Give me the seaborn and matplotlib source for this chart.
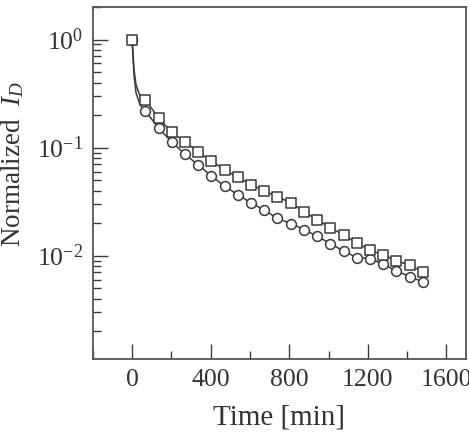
import numpy as np
import pandas as pd
import seaborn as sns
from matplotlib import pyplot as plt
from matplotlib.ticker import LogLocator, LogFormatterMathtext, MultipleLocator, NullFormatter

time = [0, 67, 135, 202, 269, 337, 404, 471, 538, 606, 673, 740, 808, 875,
        942, 1010, 1077, 1144, 1212, 1279, 1346, 1414, 1481]
squares = [1.0, 0.278, 0.187, 0.138, 0.113, 0.091, 0.0747, 0.0625, 0.0531, 0.0454,
           0.0397, 0.0349, 0.0310, 0.0255, 0.0215, 0.0182, 0.0155, 0.0131,
           0.0112, 0.0101, 0.0090, 0.0081, 0.0071]
circles = [1.0, 0.218, 0.151, 0.113, 0.0867, 0.069, 0.0546, 0.0438, 0.0367, 0.0307,
           0.0263, 0.0221, 0.0198, 0.0174, 0.0151, 0.0129, 0.0110, 0.0096,
           0.0094, 0.0083, 0.0072, 0.0064, 0.0057]

# early part of the fitted curves (steep initial drop)
early_time = [0, 5, 10, 20, 40]
early_squares = [1.0, 0.70, 0.52, 0.38, 0.30]
early_circles = [1.0, 0.66, 0.46, 0.32, 0.25]

sns.set_style("ticks")
plt.rcParams['font.family'] = ['Liberation Serif', 'DejaVu Serif']
plt.rcParams['mathtext.fontset'] = 'custom'
plt.rcParams['mathtext.rm'] = 'Liberation Serif'
plt.rcParams['mathtext.it'] = 'Liberation Serif:italic'
plt.rcParams['axes.unicode_minus'] = False

ink = '#3a3a3a'

fig = plt.figure(figsize=(4.69, 4.38), dpi=100)
ax = fig.add_axes([0.198, 0.180, 0.7956, 0.804])

line_sq = pd.DataFrame({'t': early_time + time[1:], 'v': early_squares + squares[1:]})
line_ci = pd.DataFrame({'t': early_time + time[1:], 'v': early_circles + circles[1:]})
sns.lineplot(data=line_sq, x='t', y='v', ax=ax, color=ink, lw=1.1, estimator=None, sort=False)
sns.lineplot(data=line_ci, x='t', y='v', ax=ax, color=ink, lw=1.1, estimator=None, sort=False)

pts_ci = pd.DataFrame({'t': time, 'v': circles})
pts_sq = pd.DataFrame({'t': time, 'v': squares})
sns.scatterplot(data=pts_ci, x='t', y='v', ax=ax, marker='o', s=50,
                facecolor='white', edgecolor=ink, linewidth=1.1, zorder=3)
sns.scatterplot(data=pts_sq, x='t', y='v', ax=ax, marker='s', s=52,
                facecolor='white', edgecolor=ink, linewidth=1.1, zorder=4)

ax.set_yscale('log')
ax.set_xlim(-200, 1700)
ax.set_ylim(1.1e-3, 2.0)

ax.xaxis.set_major_locator(MultipleLocator(400))
ax.xaxis.set_minor_locator(MultipleLocator(200))
ax.yaxis.set_minor_locator(LogLocator(base=10, subs=np.arange(2, 10), numticks=20))
ax.yaxis.set_major_formatter(LogFormatterMathtext())
ax.yaxis.set_minor_formatter(NullFormatter())
ax.set_yticks([1e-2, 1e-1, 1e0])

ax.tick_params(which='both', direction='in', top=False, right=False, color=ink, width=1.0)
ax.tick_params(which='major', length=11, labelsize=18.5, labelcolor='#333333')
ax.tick_params(axis='x', which='major', pad=7)
ax.tick_params(axis='y', which='major', pad=7)
ax.tick_params(which='minor', length=5.5)

for sp in ax.spines.values():
    sp.set_color('#555555')
    sp.set_linewidth(1.3)

ax.set_xlabel('Time [min]', fontsize=21, color='#333333')
ax.xaxis.set_label_coords(0.5, -0.128)
ax.set_ylabel('Normalized  $I_D$', fontsize=19.5, color='#333333')
ax.yaxis.set_label_coords(-0.18, 0.554)

fig.savefig('out.png', dpi=100)
